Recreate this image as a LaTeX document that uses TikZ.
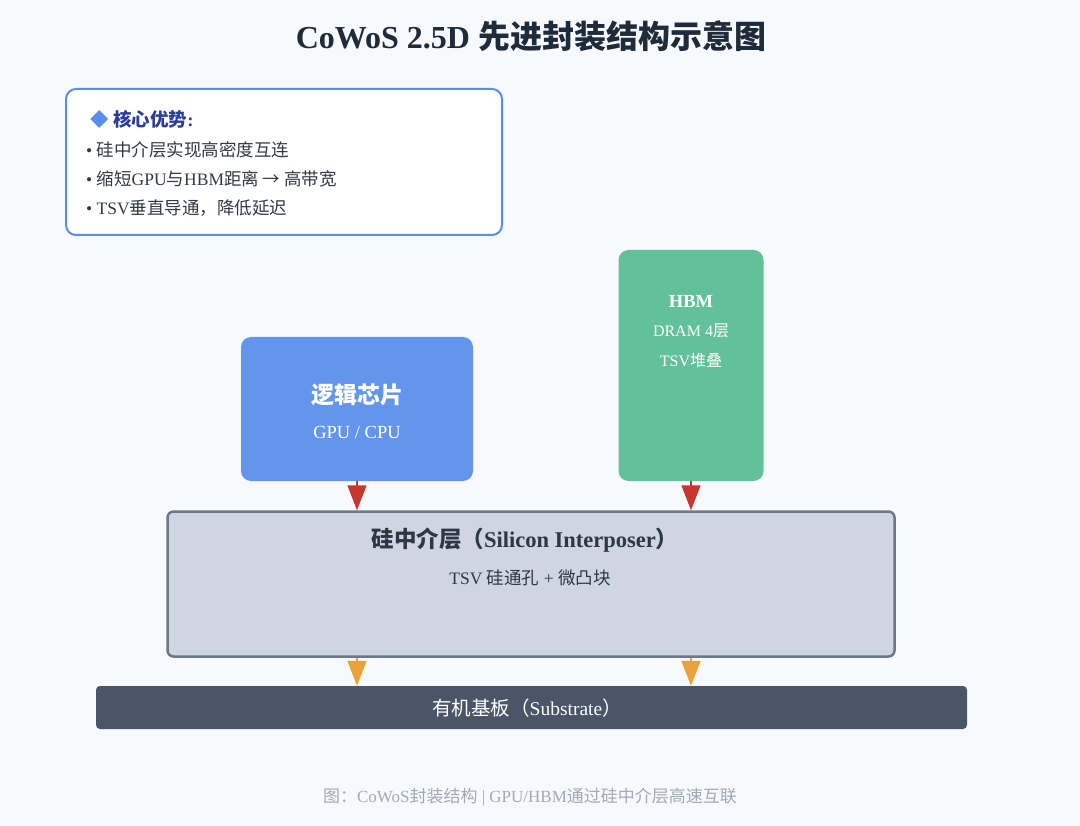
\documentclass[tikz,border=0pt]{standalone}
\usepackage{fontspec}
\setmainfont{Liberation Serif}
\newfontfamily\cjk{Noto Sans CJK SC}
\usetikzlibrary{arrows.meta}
\definecolor{pagebg}{HTML}{F7F9FC}
\definecolor{titlecol}{HTML}{1E2B3A}
\definecolor{noteline}{HTML}{5A8DEE}
\definecolor{notehead}{HTML}{2B3C9B}
\definecolor{notetext}{HTML}{333A44}
\definecolor{chipcol}{HTML}{6495ED}
\definecolor{hbmcol}{HTML}{62C198}
\definecolor{intercol}{HTML}{CFD6E0}
\definecolor{interline}{HTML}{6B7889}
\definecolor{intertext}{HTML}{2D3748}
\definecolor{subcol}{HTML}{4A5568}
\definecolor{redarr}{HTML}{C8372D}
\definecolor{orgarr}{HTML}{E9A23B}
\definecolor{capcol}{HTML}{A0AAB8}

\begin{document}
\begin{tikzpicture}
  [
    x=1pt, y=-1pt,
    box/.style={rounded corners=10pt, inner sep=0pt},
    txt/.style={inner sep=0pt, anchor=center},
    down/.style={-{Triangle[width=19pt,length=25pt]}, line width=1.5pt}
  ]
  \fill [pagebg] (0,0) rectangle (1080,826);
  \useasboundingbox (0,0) rectangle (1080,826);

  % title
  \node [txt, text=titlecol, font=\fontsize{32}{38}\selectfont\bfseries] (title) at (531, 36)
    {CoWoS 2.5D {\cjk 先进封装结构示意图}};

  % note box
  \node [box, draw=noteline, line width=2pt, fill=white, minimum width=436pt, minimum height=146pt] (note) at (284, 162) {};
  \node [txt, anchor=west, text=notehead, font=\fontsize{18.5}{22}\selectfont\bfseries] (head) at (90, 119)
    {{\cjk\color{noteline}◆} {\cjk 核心优势}:};
  \foreach \line [count=\idx] in {{\cjk 硅中介层实现高密度互连},
      {{\cjk 缩短}GPU{\cjk 与}HBM{\cjk 距离 → 高带宽}},
      {TSV{\cjk 垂直导通，降低延迟}}}{
    \node [txt, anchor=west, text=notetext, font=\fontsize{17.5}{21}\selectfont] (pt\idx) at (86, 121+29*\idx) {• \line};
  }

  % chips
  \node [box, fill=chipcol, minimum width=232pt, minimum height=144pt] (chip) at (357, 409) {};
  \node [txt, text=white, font=\fontsize{23}{27}\selectfont\bfseries] (chipa) at (357, 395) {\cjk 逻辑芯片};
  \node [txt, text=white, font=\fontsize{18.5}{22}\selectfont] (chipb) at (357, 432) {GPU / CPU};

  \node [box, fill=hbmcol, minimum width=145pt, minimum height=231pt] (hbm) at (691, 365.5) {};
  \node [txt, text=white, font=\fontsize{18.5}{22}\selectfont\bfseries] (hbma) at (691, 301) {HBM};
  \node [txt, text=white, font=\fontsize{16}{19}\selectfont] (hbmb) at (691, 331) {DRAM 4{\cjk 层}};
  \node [txt, text=white, font=\fontsize{16}{19}\selectfont] (hbmc) at (691, 360) {TSV{\cjk 堆叠}};

  % interposer
  \node [box, rounded corners=6pt, draw=interline, line width=2.5pt, fill=intercol, minimum width=727pt, minimum height=145pt] (inter) at (531, 584) {};
  \node [txt, text=intertext, font=\fontsize{22.5}{27}\selectfont\bfseries] (intera) at (525, 540)
    {{\cjk 硅中介层（}Silicon Interposer{\cjk ）}};
  \node [txt, text=intertext, font=\fontsize{17.5}{21}\selectfont] (interb) at (530, 578)
    {TSV {\cjk 硅通孔} + {\cjk 微凸块}};

  % substrate
  \node [box, rounded corners=4pt, fill=subcol, minimum width=871pt, minimum height=43pt] (sub) at (531.5, 707.5) {};
  \node [txt, text=white, font=\fontsize{19.5}{23}\selectfont] (suba) at (527, 708)
    {{\cjk 有机基板（}Substrate{\cjk ）}};

  % arrows
  \draw [down, redarr] (chip.south) -- (chip.south |- inter.north);
  \draw [down, redarr] (hbm.south) -- (hbm.south |- inter.north);
  \draw [down, orgarr] (chip.south |- inter.south) -- (chip.south |- sub.north);
  \draw [down, orgarr] (hbm.south |- inter.south) -- (hbm.south |- sub.north);

  % caption
  \node [txt, text=capcol, font=\fontsize{17}{20}\selectfont] (cap) at (530, 797)
    {{\cjk 图：}CoWoS{\cjk 封装结构} | GPU/HBM{\cjk 通过硅中介层高速互联}};
\end{tikzpicture}
\end{document}
